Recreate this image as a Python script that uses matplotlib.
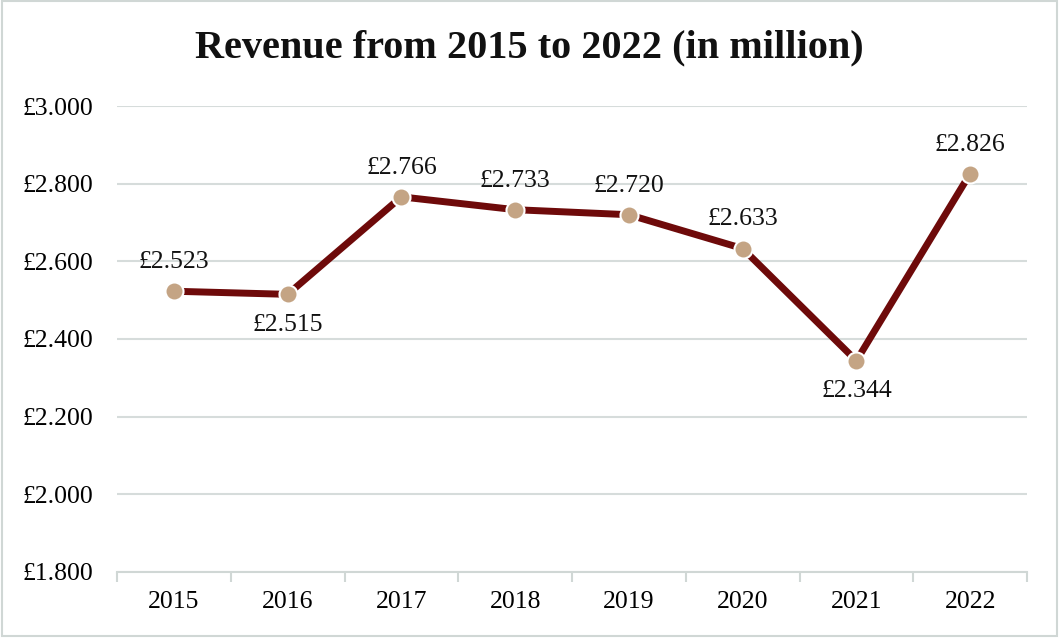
import matplotlib
matplotlib.use("Agg")
import matplotlib.pyplot as plt
from matplotlib.patches import Rectangle

years = ["2015", "2016", "2017", "2018", "2019", "2020", "2021", "2022"]
revenue = [2.523, 2.515, 2.766, 2.733, 2.720, 2.633, 2.344, 2.826]
label_pos = ["above", "below", "above", "above", "above", "above", "below", "above"]
yticks = [1.8, 2.0, 2.2, 2.4, 2.6, 2.8, 3.0]

plt.rcParams['font.family'] = ['Liberation Serif', 'DejaVu Serif']

fig = plt.figure(figsize=(10.59, 6.39), dpi=100)
fig.patches.append(Rectangle((0.002, 0.005), 0.996, 0.993, transform=fig.transFigure,
                             fill=False, edgecolor='#d0d7d5', linewidth=1.5))
ax = fig.add_axes([0.1105, 0.1049, 0.8593, 0.7292])

x = list(range(len(years)))
ax.plot(x, revenue, color='#6e0a0a', linewidth=5, solid_capstyle='round', zorder=3)
ax.plot(x, revenue, linestyle='none', marker='o', markersize=13, markerfacecolor='#c4a484',
        markeredgecolor='white', markeredgewidth=1.5, zorder=4)

for xi, v, pos in zip(x, revenue, label_pos):
    if pos == "above":
        ax.annotate(f"£{v:.3f}", (xi, v), xytext=(0, 13), textcoords='offset points',
                    ha='center', va='bottom', fontsize=18.5, color='#111111')
    else:
        ax.annotate(f"£{v:.3f}", (xi, v), xytext=(0, -14), textcoords='offset points',
                    ha='center', va='top', fontsize=18.5, color='#111111')

ax.set_xlim(-0.5, len(years) - 0.5)
ax.set_ylim(1.8, 3.0)
ax.set_yticks(yticks)
ax.set_yticklabels([f"£{t:.3f}" for t in yticks], fontsize=18.5)
ax.set_xticks(x)
ax.set_xticklabels(years, fontsize=18.5)
ax.tick_params(axis='x', length=0, pad=14)
ax.tick_params(axis='y', length=0, pad=17)
# category boundary tick marks
ax.set_xticks([i - 0.5 for i in range(len(years) + 1)], minor=True)
ax.tick_params(axis='x', which='minor', length=7, width=1.5, color='#d0d7d5', direction='out')

ax.grid(axis='y', color='#d6dcdb', linewidth=1.5)
ax.set_axisbelow(True)
for s in ['top', 'right', 'left']:
    ax.spines[s].set_visible(False)
ax.spines['bottom'].set_color('#d0d7d5')
ax.spines['bottom'].set_linewidth(1.5)

fig.text(0.5, 0.925, "Revenue from 2015 to 2022 (in million)", fontsize=29, fontweight='bold',
         ha='center', va='center', color='#111111')

fig.savefig("out.png", dpi=100)
